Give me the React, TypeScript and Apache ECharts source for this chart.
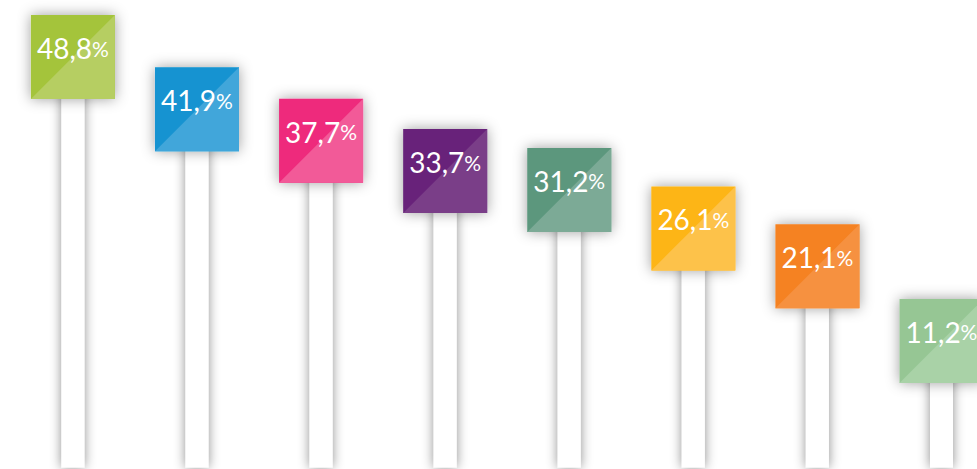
import React, { useEffect, useRef } from "react";
import * as echarts from "echarts";

const categories = ["1", "2", "3", "4", "5", "6", "7", "8"];
const values = [48.8, 41.9, 37.7, 33.7, 31.2, 26.1, 21.1, 11.2];
const darkColors = ["#a4c43a", "#1493d1", "#ee2a7b", "#68237a", "#5c977d", "#fdb515", "#f58220", "#96c694"];
const lightColors = ["#b6ce62", "#41a6da", "#f25a98", "#7a3e88", "#7caa96", "#fdc24a", "#f69140", "#a9d2a7"];

export default function App() {
  const ref = useRef<HTMLDivElement>(null);
  useEffect(() => {
    const chart = echarts.init(ref.current!, null, { renderer: "svg" });
    chart.setOption({
      animation: false,
      backgroundColor: "#ffffff",
      grid: { left: 72.9, right: 35.5, top: 90, bottom: 1.5 },
      xAxis: { type: "category", data: categories, boundaryGap: false, show: false },
      yAxis: { type: "value", min: 0, max: 50, show: false },
      series: [
        {
          type: "custom",
          clip: false,
          data: values.map((v, i) => [i, v]),
          encode: { x: 0, y: 1 },
          renderItem: (params: any, api: any) => {
            const idx = params.dataIndex;
            const v = api.value(1);
            const top = api.coord([api.value(0), v]);
            const base = api.coord([api.value(0), 0]);
            const cx = top[0];
            const y = top[1];
            const s = 84;
            const pw = 23;
            const x0 = cx - s / 2;
            const y0 = y - s;
            const label = v.toFixed(1).replace(".", ",");
            return {
              type: "group",
              children: [
                {
                  type: "rect",
                  shape: { x: cx - pw / 2, y: y - 10, width: pw, height: base[1] - y + 10 },
                  style: { fill: "#ffffff", shadowBlur: 12, shadowColor: "rgba(0,0,0,0.45)" },
                },
                {
                  type: "rect",
                  shape: { x: x0, y: y0, width: s, height: s },
                  style: { fill: darkColors[idx], shadowBlur: 14, shadowColor: "rgba(0,0,0,0.38)" },
                },
                {
                  type: "polygon",
                  shape: { points: [[x0 + s, y0], [x0 + s, y0 + s], [x0, y0 + s]] },
                  style: { fill: lightColors[idx] },
                },
                {
                  type: "text",
                  x: cx,
                  y: y0 + 33,
                  style: {
                    text: `{n|${label}}{p|%}`,
                    align: "center",
                    verticalAlign: "middle",
                    fill: "#ffffff",
                    rich: {
                      n: { fontFamily: "Lato", fontSize: 28, fill: "#ffffff", color: "#ffffff" },
                      p: { fontFamily: "Lato", fontSize: 21, fill: "#ffffff", color: "#ffffff" },
                    },
                  },
                },
              ],
            };
          },
        },
      ],
    });
    return () => chart.dispose();
  }, []);
  return <div ref={ref} style={{ position: "fixed", left: 0, top: 0, width: 977, height: 469 }} />;
}
